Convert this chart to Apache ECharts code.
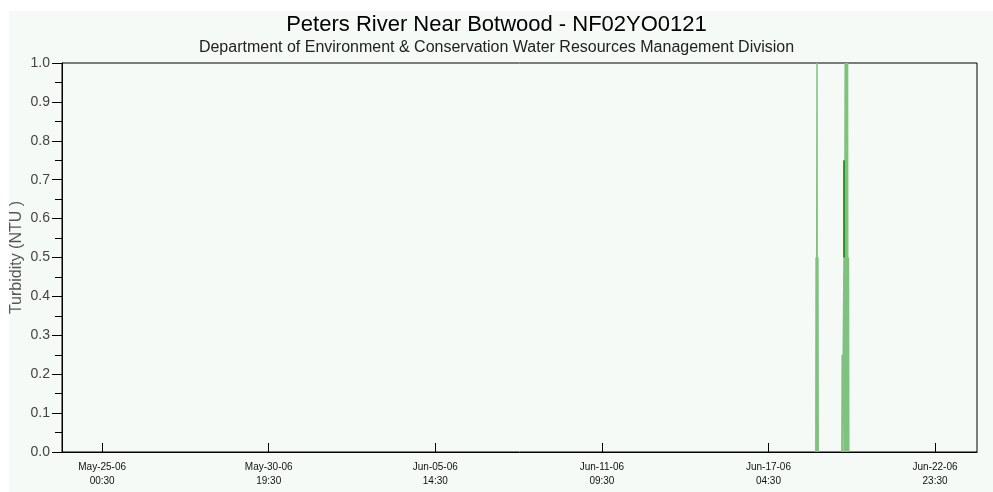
<!DOCTYPE html>
<html><head><meta charset="utf-8">
<script src="https://cdn.jsdelivr.net/npm/echarts@6/dist/echarts.min.js"></script>
<style>html,body{margin:0;padding:0;background:#fff}#c{width:993px;height:492px}</style>
</head><body><div id="c"></div>
<script>
const chartTitle = 'Peters River Near Botwood - NF02YO0121';
const chartSubtitle = 'Department of Environment & Conservation Water Resources Management Division';
const yAxisName = 'Turbidity (NTU )';
const xRange = ['2006-05-23T15:00', '2006-06-24T10:30'];
const xTickTimes = ['2006-05-25T00:30', '2006-05-30T19:30', '2006-06-05T14:30', '2006-06-11T09:30', '2006-06-17T04:30', '2006-06-22T23:30'];
const xTickLabels = ['May-25-06\n00:30', 'May-30-06\n19:30', 'Jun-05-06\n14:30', 'Jun-11-06\n09:30', 'Jun-17-06\n04:30', 'Jun-22-06\n23:30'];
const yRange = [0, 1.0];
const yStep = 0.1;

// light green turbidity trace (null = gap)
const lightTimes = [
  '2006-06-18T20:00', '2006-06-18T20:15', '2006-06-18T20:30', '2006-06-18T20:45',
  '2006-06-18T21:00', '2006-06-18T21:15', '2006-06-18T21:30', '2006-06-18T21:45',
  '2006-06-18T22:00', '2006-06-19T06:00',
  '2006-06-19T17:45', '2006-06-19T18:00', '2006-06-19T18:15', '2006-06-19T19:15',
  '2006-06-19T19:30', '2006-06-19T19:45', '2006-06-19T20:15', '2006-06-19T20:30',
  '2006-06-19T20:45', '2006-06-19T21:15', '2006-06-19T21:30', '2006-06-19T21:45',
  '2006-06-19T22:15', '2006-06-19T22:30', '2006-06-19T22:45', '2006-06-19T23:00',
  '2006-06-19T23:15', '2006-06-19T23:30'
];
const lightValues = [
  0, 0.5, 0, 0,
  1.0, 0, 0, 0.5,
  0, null,
  0, 0.25, 0, 0,
  0.5, 0, 0, 1.0,
  0, 0, 1.0, 0,
  0, 1.0, 0, 0,
  0.5, 0
];
// dark green segment
const darkTimes = ['2006-06-19T19:30', '2006-06-19T19:30'];
const darkValues = [0.5, 0.75];

const FONT = 'Liberation Sans, Arial, sans-serif';
const toMs = s => Date.parse(s + ':00Z');
const tickMs = xTickTimes.map(toMs);
const lightData = lightTimes.map((t, i) => [toMs(t), lightValues[i] === null ? '-' : lightValues[i]]);
const darkData = darkTimes.map((t, i) => [toMs(t), darkValues[i]]);

const chart = echarts.init(document.getElementById('c'), null, {renderer: 'canvas'});
chart.setOption({
  animation: false,
  backgroundColor: '#f5faf6',
  graphic: [
    {type: 'rect', shape: {x: 0, y: 0, width: 993, height: 11}, style: {fill: '#ffffff'}, silent: true, z: -10},
    {type: 'rect', shape: {x: 0, y: 0, width: 9, height: 492}, style: {fill: '#ffffff'}, silent: true, z: -10}
  ],
  title: [
    {text: chartTitle, left: 'center', top: 9, textStyle: {fontFamily: FONT, fontSize: 22, fontWeight: 'normal', color: '#000'}},
    {text: chartSubtitle, left: 'center', top: 35, textStyle: {fontFamily: FONT, fontSize: 16, fontWeight: 'normal', color: '#222'}}
  ],
  grid: {left: 62, right: 16, top: 63, bottom: 40, show: true, borderColor: '#000', borderWidth: 1, backgroundColor: 'transparent', outerBoundsMode: 'none', containLabel: false},
  xAxis: {
    type: 'value', min: toMs(xRange[0]), max: toMs(xRange[1]),
    splitLine: {show: false},
    axisLine: {lineStyle: {color: '#000', width: 1}},
    axisTick: {show: true, inside: true, length: 9, lineStyle: {color: '#000'}, customValues: tickMs},
    axisLabel: {
      customValues: tickMs, fontFamily: FONT, fontSize: 10, lineHeight: 14, color: '#111', margin: 8,
      formatter: v => { const i = tickMs.indexOf(v); return i >= 0 ? xTickLabels[i] : ''; }
    }
  },
  yAxis: {
    type: 'value', min: yRange[0], max: yRange[1], interval: yStep,
    name: yAxisName, nameLocation: 'middle', nameGap: 37, nameMoveOverlap: false,
    nameTextStyle: {fontFamily: FONT, fontSize: 16, color: '#555'},
    splitLine: {show: false},
    axisLine: {show: true, lineStyle: {color: '#000'}},
    axisTick: {show: true, length: 10, lineStyle: {color: '#000'}},
    minorTick: {show: true, splitNumber: 2, length: 7, lineStyle: {color: '#000'}},
    axisLabel: {fontFamily: FONT, fontSize: 14, color: '#444', margin: 12, formatter: v => v.toFixed(1)}
  },
  series: [
    {type: 'line', data: lightData, showSymbol: false, connectNulls: false, lineStyle: {color: '#7fc17f', width: 1.5}, z: 2},
    {type: 'line', data: darkData, showSymbol: false, lineStyle: {color: '#008000', width: 1.5}, z: 3}
  ]
});
</script></body></html>
